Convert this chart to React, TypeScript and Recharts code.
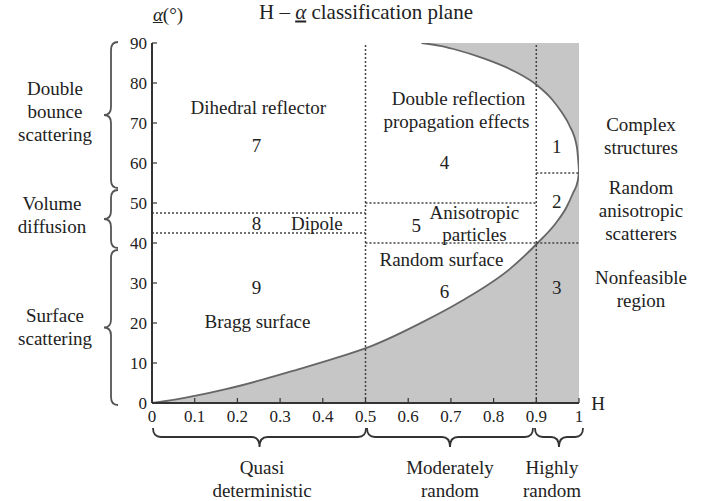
import React from 'react';
import { ComposedChart, Area, Line, XAxis, YAxis, ReferenceLine, Scatter } from 'recharts';

const FONT = '"Liberation Serif", "Times New Roman", serif';

const hTicks = [0, 0.1, 0.2, 0.3, 0.4, 0.5, 0.6, 0.7, 0.8, 0.9, 1];
const hTickLabels = ['0', '0.1', '0.2', '0.3', '0.4', '0.5', '0.6', '0.7', '0.8', '0.9', '1'];
const alphaTicks = [0, 10, 20, 30, 40, 50, 60, 70, 80, 90];

// Lower feasibility boundary (curve I)
const lowerBoundary = [
  { h: 0, a: 0 },
  { h: 0.057, a: 0.9 },
  { h: 0.1, a: 1.76 },
  { h: 0.173, a: 3.46 },
  { h: 0.261, a: 5.89 },
  { h: 0.335, a: 8.18 },
  { h: 0.435, a: 11.4 },
  { h: 0.515, a: 14.3 },
  { h: 0.637, a: 20.4 },
  { h: 0.725, a: 25.5 },
  { h: 0.839, a: 33.6 },
  { h: 0.903, a: 40 },
  { h: 0.946, a: 45 },
  { h: 0.971, a: 49 },
  { h: 0.986, a: 52.5 },
  { h: 0.997, a: 55.5 },
  { h: 1, a: 58 },
];

// Upper feasibility boundary (curve II)
const upperBoundary = [
  { h: 0.631, a: 90 },
  { h: 0.675, a: 89.3 },
  { h: 0.706, a: 88.5 },
  { h: 0.775, a: 86.2 },
  { h: 0.851, a: 82.8 },
  { h: 0.901, a: 79.5 },
  { h: 0.936, a: 76 },
  { h: 0.96, a: 72.6 },
  { h: 0.977, a: 69.5 },
  { h: 0.995, a: 64 },
  { h: 1, a: 58 },
];
const upperBand = upperBoundary.map((p) => ({ h: p.h, band: [p.a, 90] }));

const verticalSplits = [0.5, 0.9];
const horizontalSplits = [
  { from: 0, to: 0.5, a: 47.5 },
  { from: 0, to: 0.5, a: 42.5 },
  { from: 0.5, to: 0.9, a: 50 },
  { from: 0.5, to: 0.9, a: 40 },
  { from: 0.9, to: 1, a: 57.5 },
  { from: 0.9, to: 1, a: 40 },
];

const zoneLabels = [
  { h: 0.249, a: 74, text: 'Dihedral reflector' },
  { h: 0.245, a: 64.5, text: '7' },
  { h: 0.718, a: 76.2, text: 'Double reflection' },
  { h: 0.713, a: 70.5, text: 'propagation effects' },
  { h: 0.685, a: 60.2, text: '4' },
  { h: 0.948, a: 64.2, text: '1' },
  { h: 0.948, a: 50.5, text: '2' },
  { h: 0.245, a: 44.9, text: '8' },
  { h: 0.386, a: 44.9, text: 'Dipole' },
  { h: 0.619, a: 44.3, text: '5' },
  { h: 0.755, a: 47.6, text: 'Anisotropic' },
  { h: 0.755, a: 42.1, text: 'particles' },
  { h: 0.678, a: 36, text: 'Random surface' },
  { h: 0.685, a: 28, text: '6' },
  { h: 0.245, a: 29, text: '9' },
  { h: 0.247, a: 20.3, text: 'Bragg surface' },
  { h: 0.948, a: 29, text: '3' },
];

const leftGroups = [
  { lines: ['Double', 'bounce', 'scattering'], x: 55, y: 111 },
  { lines: ['Volume', 'diffusion'], x: 52, y: 214.5 },
  { lines: ['Surface', 'scattering'], x: 55, y: 326.5 },
];
const rightGroups = [
  { lines: ['Complex', 'structures'], x: 641, y: 135.5 },
  { lines: ['Random', 'anisotropic', 'scatterers'], x: 641, y: 210 },
  { lines: ['Nonfeasible', 'region'], x: 641, y: 289 },
];
const bottomGroups = [
  { lines: ['Quasi', 'deterministic'], x: 262, y: 478.5 },
  { lines: ['Moderately', 'random'], x: 450, y: 478.5 },
  { lines: ['Highly', 'random'], x: 552, y: 478.5 },
];

const vBraces = [
  { y0: 42, y1: 188 },
  { y0: 190, y1: 248 },
  { y0: 250, y1: 405 },
];
const hBraces = [
  { x0: 153, x1: 366 },
  { x0: 367, x1: 533 },
  { x0: 535, x1: 583 },
];

const TICK_COLOR = '#333';
const TEXT_COLOR = '#222';
const tickTextStyle = { fontFamily: FONT, fontSize: 17 };

const BottomTick = (props: any) => {
  const { x, y, payload } = props;
  return (
    <g>
      <line x1={x} y1={y} x2={x} y2={y - 5} stroke={TICK_COLOR} strokeWidth={1.2} />
      <text x={x} y={y + 19} textAnchor="middle" fill={TEXT_COLOR} style={tickTextStyle}>
        {hTickLabels[hTicks.indexOf(payload.value)] ?? String(payload.value)}
      </text>
    </g>
  );
};
const TopTick = (props: any) => {
  const { x, y } = props;
  return <line x1={x} y1={y} x2={x} y2={y + 5} stroke={TICK_COLOR} strokeWidth={1.2} />;
};
const LeftTick = (props: any) => {
  const { x, y, payload } = props;
  return (
    <g>
      <line x1={x} y1={y} x2={x + 5} y2={y} stroke={TICK_COLOR} strokeWidth={1.2} />
      <text x={x - 5} y={y + 6} textAnchor="end" fill={TEXT_COLOR} style={tickTextStyle}>
        {payload.value}
      </text>
    </g>
  );
};

const LabelShape = (props: any) => {
  const { cx, cy, payload } = props;
  return (
    <text x={cx} y={cy} textAnchor="middle" dominantBaseline="central" fill={TEXT_COLOR} style={{ fontFamily: FONT, fontSize: 19 }}>
      {payload.text}
    </text>
  );
};

const vBracePath = (y0: number, y1: number) => {
  const s = 111, t = 104, e = 118, r = 8;
  const m = (y0 + y1) / 2;
  return `M${e},${y0} Q${s},${y0} ${s},${y0 + r} L${s},${m - r} Q${s},${m} ${t},${m} Q${s},${m} ${s},${m + r} L${s},${y1 - r} Q${s},${y1} ${e},${y1}`;
};
const hBracePath = (x0: number, x1: number) => {
  const s = 437, t = 447, e = 428, r = 8;
  const m = (x0 + x1) / 2;
  return `M${x0},${e} Q${x0},${s} ${x0 + r},${s} L${m - r},${s} Q${m},${s} ${m},${t} Q${m},${s} ${m + r},${s} L${x1 - r},${s} Q${x1},${s} ${x1},${e}`;
};

const TextBlock = ({ lines, x, y }: { lines: string[]; x: number; y: number }) => (
  <div
    style={{
      position: 'absolute',
      left: x,
      top: y,
      transform: 'translate(-50%, -50%)',
      textAlign: 'center',
      lineHeight: '23px',
      fontSize: 19,
      whiteSpace: 'nowrap',
      color: TEXT_COLOR,
    }}
  >
    {lines.map((l, i) => (
      <div key={i}>{l}</div>
    ))}
  </div>
);

export default function App() {
  return (
    <div style={{ position: 'absolute', left: 0, top: 0, width: 711, height: 501, background: '#fff', fontFamily: FONT, overflow: 'hidden' }}>
      <ComposedChart width={711} height={501} margin={{ top: 43, right: 132, bottom: 68, left: 112 }} style={{ fontFamily: FONT }}>
        <XAxis
          dataKey="h"
          type="number"
          domain={[0, 1]}
          ticks={hTicks}
          interval={0}
          allowDataOverflow
          height={30}
          tickSize={0}
          tickMargin={0}
          tickLine={false}
          tick={<BottomTick />}
          axisLine={{ stroke: '#333', strokeWidth: 2 }}
        />
        <XAxis
          xAxisId="top"
          orientation="top"
          type="number"
          domain={[0, 1]}
          ticks={hTicks}
          interval={0}
          height={0}
          tickSize={0}
          tickMargin={0}
          tickLine={false}
          tick={<TopTick />}
          axisLine={{ stroke: '#333', strokeWidth: 2 }}
        />
        <YAxis
          type="number"
          domain={[0, 90]}
          ticks={alphaTicks}
          interval={0}
          allowDataOverflow
          width={40}
          tickSize={0}
          tickMargin={0}
          tickLine={false}
          tick={<LeftTick />}
          axisLine={{ stroke: '#333', strokeWidth: 2 }}
        />
        <YAxis
          yAxisId="right"
          orientation="right"
          type="number"
          domain={[0, 90]}
          width={0}
          tick={false}
          tickLine={false}
          axisLine={{ stroke: '#8a8a8a', strokeWidth: 2 }}
        />
        <Area
          data={lowerBoundary}
          dataKey="a"
          type="monotone"
          fill="#c6c6c6"
          fillOpacity={1}
          stroke="none"
          baseValue={0}
          dot={false}
          activeDot={false}
          isAnimationActive={false}
        />
        <Area
          data={upperBand}
          dataKey="band"
          type="monotone"
          fill="#c6c6c6"
          fillOpacity={1}
          stroke="none"
          dot={false}
          activeDot={false}
          isAnimationActive={false}
        />
        <Line data={lowerBoundary} dataKey="a" type="monotone" stroke="#666" strokeWidth={1.8} dot={false} activeDot={false} isAnimationActive={false} />
        <Line data={upperBoundary} dataKey="a" type="monotone" stroke="#666" strokeWidth={1.8} dot={false} activeDot={false} isAnimationActive={false} />
        {verticalSplits.map((h) => (
          <ReferenceLine key={'v' + h} x={h} stroke="#444" strokeWidth={1.5} strokeDasharray="2 2" />
        ))}
        {horizontalSplits.map((s, i) => (
          <ReferenceLine
            key={'h' + i}
            segment={[
              { x: s.from, y: s.a },
              { x: s.to, y: s.a },
            ]}
            stroke="#444"
            strokeWidth={1.5}
            strokeDasharray="2 2"
          />
        ))}
        <Scatter data={zoneLabels} dataKey="a" shape={<LabelShape />} isAnimationActive={false} />
      </ComposedChart>

      <svg width={711} height={501} style={{ position: 'absolute', left: 0, top: 0, pointerEvents: 'none' }}>
        {vBraces.map((b, i) => (
          <path key={'vb' + i} d={vBracePath(b.y0, b.y1)} fill="none" stroke="#555" strokeWidth={1.8} />
        ))}
        {hBraces.map((b, i) => (
          <path key={'hb' + i} d={hBracePath(b.x0, b.x1)} fill="none" stroke="#333" strokeWidth={1.8} />
        ))}
      </svg>

      <div style={{ position: 'absolute', left: 366, top: 12, transform: 'translate(-50%, -50%)', fontSize: 21, whiteSpace: 'nowrap', color: TEXT_COLOR }}>
        H – <u><i>α</i></u> classification plane
      </div>
      <div style={{ position: 'absolute', left: 168, top: 15, transform: 'translate(-50%, -50%)', fontSize: 19, whiteSpace: 'nowrap', color: TEXT_COLOR }}>
        <u><i>α</i></u>(°)
      </div>
      <div style={{ position: 'absolute', left: 598, top: 404, transform: 'translate(-50%, -50%)', fontSize: 19, whiteSpace: 'nowrap', color: TEXT_COLOR }}>
        H
      </div>
      {leftGroups.map((g, i) => (
        <TextBlock key={'l' + i} {...g} />
      ))}
      {rightGroups.map((g, i) => (
        <TextBlock key={'r' + i} {...g} />
      ))}
      {bottomGroups.map((g, i) => (
        <TextBlock key={'b' + i} {...g} />
      ))}
    </div>
  );
}
